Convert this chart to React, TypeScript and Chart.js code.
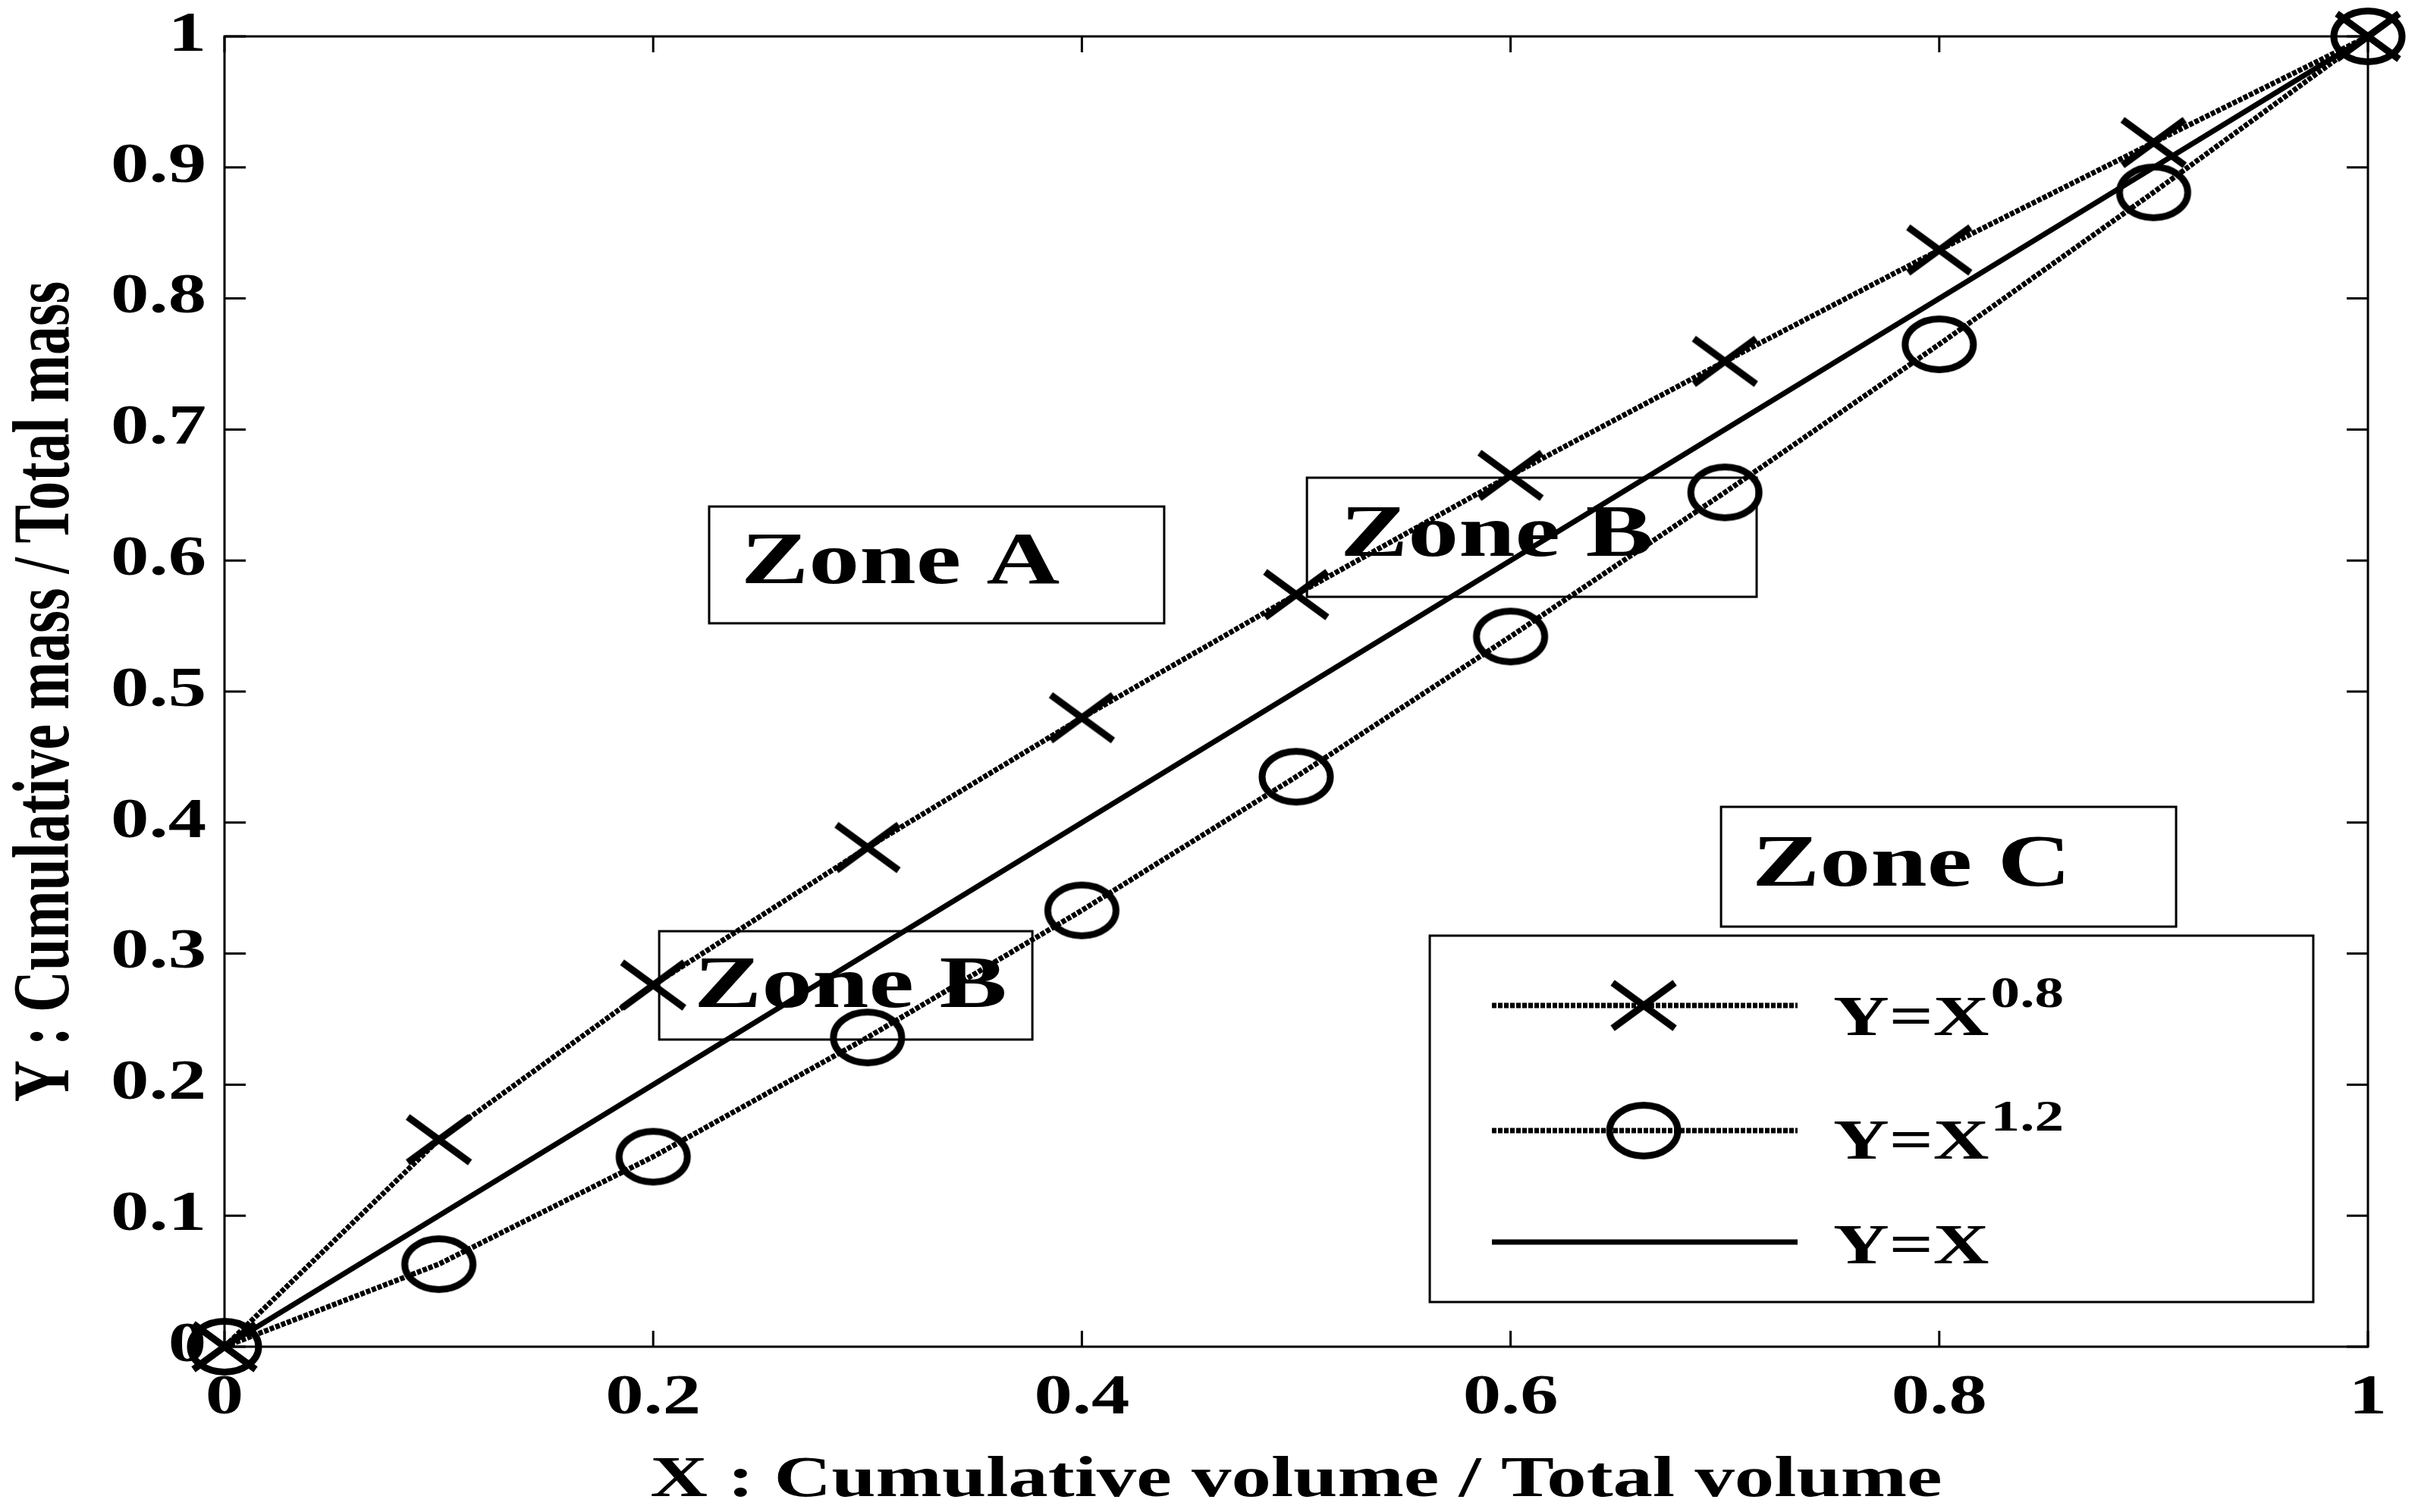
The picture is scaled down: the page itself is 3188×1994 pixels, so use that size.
import React, { useEffect, useRef } from "react";
import { Chart, registerables } from "chart.js";

Chart.register(...registerables);

// ---------- data ----------
const xValues = [0, 0.1, 0.2, 0.3, 0.4, 0.5, 0.6, 0.7, 0.8, 0.9, 1];
const yPow08 = [0, 0.158, 0.276, 0.381, 0.48, 0.574, 0.665, 0.752, 0.837, 0.919, 1];
const yPow12 = [0, 0.063, 0.145, 0.236, 0.333, 0.435, 0.542, 0.652, 0.765, 0.881, 1];
const xLinear = [0, 1];
const yLinear = [0, 1];

const seriesNames = ["Y=X", "Y=X", "Y=X"];
const seriesExponents = ["0.8", "1.2", ""];

const xTickValues = [0, 0.2, 0.4, 0.6, 0.8, 1];
const xTickLabels = ["0", "0.2", "0.4", "0.6", "0.8", "1"];
const yTickValues = [0, 0.1, 0.2, 0.3, 0.4, 0.5, 0.6, 0.7, 0.8, 0.9, 1];
const yTickLabels = ["0", "0.1", "0.2", "0.3", "0.4", "0.5", "0.6", "0.7", "0.8", "0.9", "1"];

const zoneLabels = ["Zone A", "Zone B", "Zone C", "Zone B"];
const xTitle = "X : Cumulative volume / Total volume";
const yTitle = "Y : Cumulative mass / Total mass";

// ---------- layout (data units for annotation boxes) ----------
const ZONE_LAYOUT = [
  { x0: 0.2261, x1: 0.4384, yTop: 0.6412, yBot: 0.5521, tx: 0.241, ty: 0.5828 },
  { x0: 0.505, x1: 0.7148, yTop: 0.6632, yBot: 0.5723, tx: 0.5205, ty: 0.6036 },
  { x0: 0.6982, x1: 0.9105, yTop: 0.412, yBot: 0.3206, tx: 0.7127, ty: 0.3519 },
  { x0: 0.2028, x1: 0.3769, yTop: 0.3171, yBot: 0.2344, tx: 0.219, ty: 0.2593 },
];
const LEGEND_LAYOUT = {
  x0: 0.5623, x1: 0.9745, yTop: 0.3137, yBot: 0.0341,
  lineX0: 0.5913, lineX1: 0.7339, markerX: 0.6621, textX: 0.7505,
  rowY: [0.2604, 0.1649, 0.0799],
  textBaseOffset: [39, 37, 28],
};

const SX = 1.38; // horizontal text stretch
const FONT = '"Liberation Serif", "DejaVu Serif", serif';
const BLACK = "#000000";

function drawText(ctx: CanvasRenderingContext2D, text: string, x: number, y: number, size: number, align: CanvasTextAlign, baseline: CanvasTextBaseline = "alphabetic") {
  ctx.save();
  ctx.translate(x, y);
  ctx.scale(SX, 1);
  ctx.font = `bold ${size}px ${FONT}`;
  ctx.fillStyle = BLACK;
  ctx.textAlign = align;
  ctx.textBaseline = baseline;
  ctx.fillText(text, 0, 0);
  ctx.restore();
}

function textWidth(ctx: CanvasRenderingContext2D, text: string, size: number) {
  ctx.save();
  ctx.font = `bold ${size}px ${FONT}`;
  const w = ctx.measureText(text).width * SX;
  ctx.restore();
  return w;
}

function makeCross(): HTMLCanvasElement {
  const c = document.createElement("canvas");
  c.width = 98;
  c.height = 76;
  const g = c.getContext("2d")!;
  g.strokeStyle = BLACK;
  g.lineWidth = 9;
  g.beginPath();
  g.moveTo(49 - 41, 38 - 30);
  g.lineTo(49 + 41, 38 + 30);
  g.moveTo(49 - 41, 38 + 30);
  g.lineTo(49 + 41, 38 - 30);
  g.stroke();
  return c;
}

function makeCircle(): HTMLCanvasElement {
  const c = document.createElement("canvas");
  c.width = 106;
  c.height = 86;
  const g = c.getContext("2d")!;
  g.strokeStyle = BLACK;
  g.lineWidth = 9;
  g.beginPath();
  g.ellipse(53, 43, 45, 33.5, 0, 0, Math.PI * 2);
  g.stroke();
  return c;
}

export default function App() {
  const ref = useRef<HTMLCanvasElement>(null);

  useEffect(() => {
    if (!ref.current) return;
    const cross = makeCross();
    const circle = makeCircle();

    const framePlugin = {
      id: "frame",
      beforeDraw(chart: any) {
        const ctx = chart.ctx as CanvasRenderingContext2D;
        ctx.save();
        ctx.fillStyle = "#ffffff";
        ctx.fillRect(0, 0, chart.width, chart.height);
        ctx.restore();
      },
      beforeDatasetsDraw(chart: any) {
        const ctx = chart.ctx as CanvasRenderingContext2D;
        const xs = chart.scales.x;
        const ys = chart.scales.y;
        const a = chart.chartArea;
        ctx.save();
        // zone boxes and labels
        ctx.strokeStyle = BLACK;
        ctx.lineWidth = 3;
        ZONE_LAYOUT.forEach((z, i) => {
          const l = xs.getPixelForValue(z.x0);
          const r = xs.getPixelForValue(z.x1);
          const t = ys.getPixelForValue(z.yTop);
          const b = ys.getPixelForValue(z.yBot);
          ctx.strokeRect(l, t, r - l, b - t);
          drawText(ctx, zoneLabels[i], xs.getPixelForValue(z.tx), ys.getPixelForValue(z.ty), 97, "left");
        });
        // axes box
        ctx.lineWidth = 3;
        ctx.strokeRect(a.left, a.top, a.right - a.left, a.bottom - a.top);
        // ticks
        ctx.lineWidth = 3;
        ctx.beginPath();
        yTickValues.forEach((v) => {
          const y = ys.getPixelForValue(v);
          ctx.moveTo(a.left, y);
          ctx.lineTo(a.left + 28, y);
          ctx.moveTo(a.right, y);
          ctx.lineTo(a.right - 28, y);
        });
        xTickValues.forEach((v) => {
          const x = xs.getPixelForValue(v);
          ctx.moveTo(x, a.bottom);
          ctx.lineTo(x, a.bottom - 21);
          ctx.moveTo(x, a.top);
          ctx.lineTo(x, a.top + 21);
        });
        ctx.stroke();
        // tick labels
        yTickValues.forEach((v, i) => {
          drawText(ctx, yTickLabels[i], a.left - 24, ys.getPixelForValue(v), 73, "right", "middle");
        });
        xTickValues.forEach((v, i) => {
          drawText(ctx, xTickLabels[i], xs.getPixelForValue(v), a.bottom + 88, 73, "center");
        });
        // axis titles
        drawText(ctx, xTitle, (a.left + a.right) / 2, a.bottom + 197, 76, "center");
        ctx.save();
        ctx.translate(90, (a.top + a.bottom) / 2);
        ctx.rotate(-Math.PI / 2);
        ctx.scale(1, SX);
        ctx.font = `bold 76px ${FONT}`;
        ctx.fillStyle = BLACK;
        ctx.textAlign = "center";
        ctx.textBaseline = "alphabetic";
        ctx.fillText(yTitle, 0, 0);
        ctx.restore();
        ctx.restore();
      },
      afterDatasetsDraw(chart: any) {
        const ctx = chart.ctx as CanvasRenderingContext2D;
        const xs = chart.scales.x;
        const ys = chart.scales.y;
        const L = LEGEND_LAYOUT;
        ctx.save();
        const l = xs.getPixelForValue(L.x0);
        const r = xs.getPixelForValue(L.x1);
        const t = ys.getPixelForValue(L.yTop);
        const b = ys.getPixelForValue(L.yBot);
        ctx.fillStyle = "#ffffff";
        ctx.fillRect(l, t, r - l, b - t);
        ctx.strokeStyle = BLACK;
        ctx.lineWidth = 3;
        ctx.setLineDash([]);
        ctx.strokeRect(l, t, r - l, b - t);
        chart.data.datasets.forEach((ds: any, i: number) => {
          const y = ys.getPixelForValue(L.rowY[i]);
          ctx.save();
          ctx.strokeStyle = ds.borderColor;
          ctx.lineWidth = ds.borderWidth;
          ctx.setLineDash(ds.borderDash || []);
          ctx.beginPath();
          ctx.moveTo(xs.getPixelForValue(L.lineX0), y);
          ctx.lineTo(xs.getPixelForValue(L.lineX1), y);
          ctx.stroke();
          ctx.restore();
          const img = ds.pointStyle;
          if (img && typeof img === "object") {
            const mx = xs.getPixelForValue(L.markerX);
            ctx.drawImage(img, mx - img.width / 2, y - img.height / 2);
          }
          const tx = xs.getPixelForValue(L.textX);
          const base = y + L.textBaseOffset[i];
          drawText(ctx, seriesNames[i], tx, base, 74, "left");
          if (seriesExponents[i]) {
            const w = textWidth(ctx, seriesNames[i], 74);
            drawText(ctx, seriesExponents[i], tx + w + 2, base - 37, 56, "left");
          }
        });
        ctx.restore();
      },
    };

    const chart = new Chart(ref.current, {
      type: "scatter",
      data: {
        datasets: [
          {
            label: seriesNames[0] + seriesExponents[0],
            data: xValues.map((x, i) => ({ x, y: yPow08[i] })),
            showLine: true,
            borderColor: BLACK,
            borderWidth: 7,
            borderDash: [6, 2],
            pointStyle: cross as any,
            pointRadius: 6,
            pointBackgroundColor: BLACK,
            clip: false as any,
          },
          {
            label: seriesNames[1] + seriesExponents[1],
            data: xValues.map((x, i) => ({ x, y: yPow12[i] })),
            showLine: true,
            borderColor: BLACK,
            borderWidth: 7,
            borderDash: [6, 2],
            pointStyle: circle as any,
            pointRadius: 6,
            clip: false as any,
          },
          {
            label: seriesNames[2],
            data: xLinear.map((x, i) => ({ x, y: yLinear[i] })),
            showLine: true,
            borderColor: BLACK,
            borderWidth: 7,
            pointRadius: 0,
            clip: false as any,
          },
        ] as any,
      },
      options: {
        responsive: false,
        animation: false,
        devicePixelRatio: 1,
        layout: { padding: { left: 296, right: 66, top: 48, bottom: 218 } },
        scales: {
          x: { type: "linear", min: 0, max: 1, display: false },
          y: { type: "linear", min: 0, max: 1, display: false },
        },
        plugins: {
          legend: { display: false },
          tooltip: { enabled: false },
        },
        elements: { line: { tension: 0 } },
      },
      plugins: [framePlugin],
    });
    return () => chart.destroy();
  }, []);

  return (
    <div style={{ position: "absolute", left: 0, top: 0, width: 3188, height: 1994, background: "#ffffff" }}>
      <canvas ref={ref} width={3188} height={1994} style={{ display: "block", width: 3188, height: 1994 }} />
    </div>
  );
}
